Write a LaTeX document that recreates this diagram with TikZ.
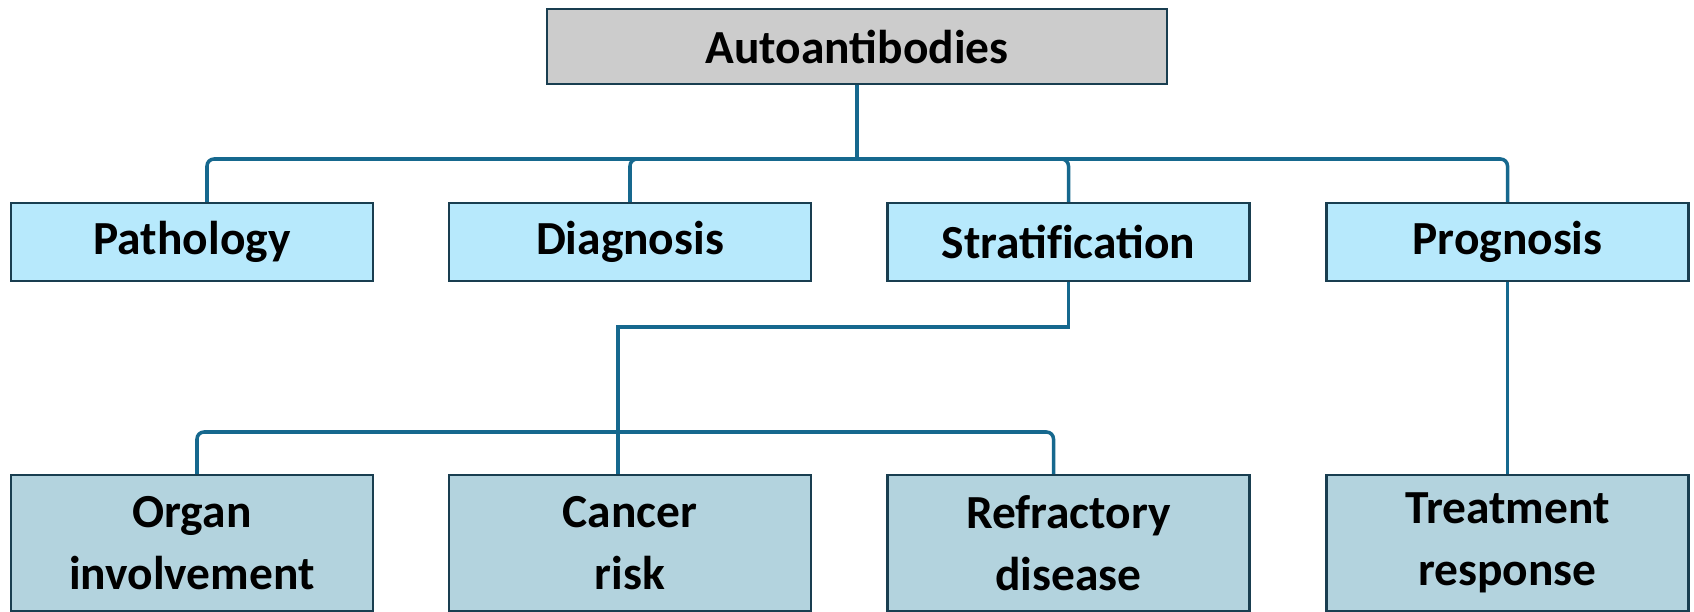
\documentclass[tikz,border=0pt]{standalone}
\usepackage{fontspec}
\setmainfont{Carlito}
\usepackage{tikz}
\usetikzlibrary{positioning}
\definecolor{rootgray}{RGB}{204,204,204}
\definecolor{midcyan}{RGB}{183,233,252}
\definecolor{lowblue}{RGB}{179,211,222}
\definecolor{edgedark}{RGB}{25,62,80}
\definecolor{linkblue}{RGB}{22,104,142}

\begin{document}
\begin{tikzpicture}[
    box/.style={draw=edgedark, line width=1.2pt, rectangle, align=center, font=\fontsize{27}{35}\selectfont\bfseries},
    link/.style={draw=linkblue, line width=2pt, rounded corners=4pt}]
    \useasboundingbox (0,0) rectangle (33.88,-12.24);

    \node[box, fill=rootgray, minimum width=12.4cm, minimum height=1.5cm] (auto) at (17.14,-0.93) {Autoantibodies};

    \node[box, fill=midcyan, minimum width=7.24cm, minimum height=1.56cm] (path) at (3.84,-4.84) {Pathology};
    \node[box, fill=midcyan, minimum width=7.24cm, minimum height=1.56cm] (diag) at (12.6,-4.84) {Diagnosis};
    \node[box, fill=midcyan, minimum width=7.24cm, minimum height=1.56cm] (strat) at (21.37,-4.84) {Stratif\kern0pt ication};
    \node[box, fill=midcyan, minimum width=7.24cm, minimum height=1.56cm] (prog) at (30.15,-4.84) {Prognosis};

    \node[box, fill=lowblue, minimum width=7.24cm, minimum height=2.72cm] (organ) at (3.84,-10.86) {Organ\\involvement};
    \node[box, fill=lowblue, minimum width=7.24cm, minimum height=2.72cm] (cancer) at (12.6,-10.86) {Cancer\\risk};
    \node[box, fill=lowblue, minimum width=7.24cm, minimum height=2.72cm] (refr) at (21.37,-10.86) {Refractory\\disease};
    \node[box, fill=lowblue, minimum width=7.24cm, minimum height=2.72cm] (treat) at (30.15,-10.86) {Treatment\\response};

    \coordinate (bus) at (17.14,-3.18);
    \coordinate (lowbus) at (12.36,-8.64);

    \draw[link] (auto.south) -- (bus);
    \draw[link] (bus) -| ([xshift=0.3cm]path.north);
    \draw[link] (bus) -| (diag.north);
    \draw[link] (bus) -| (strat.north);
    \draw[link] (bus) -| (prog.north);

    \draw[link, rounded corners=0pt] (strat.south) -- ++(0,-0.9) -| ([xshift=-0.24cm]cancer.north);
    \draw[link] (lowbus) -| ([xshift=0.1cm]organ.north);
    \draw[link] (lowbus) -| ([xshift=-0.3cm]refr.north);
    \draw[link] (prog.south) -- (treat.north);
\end{tikzpicture}
\end{document}
